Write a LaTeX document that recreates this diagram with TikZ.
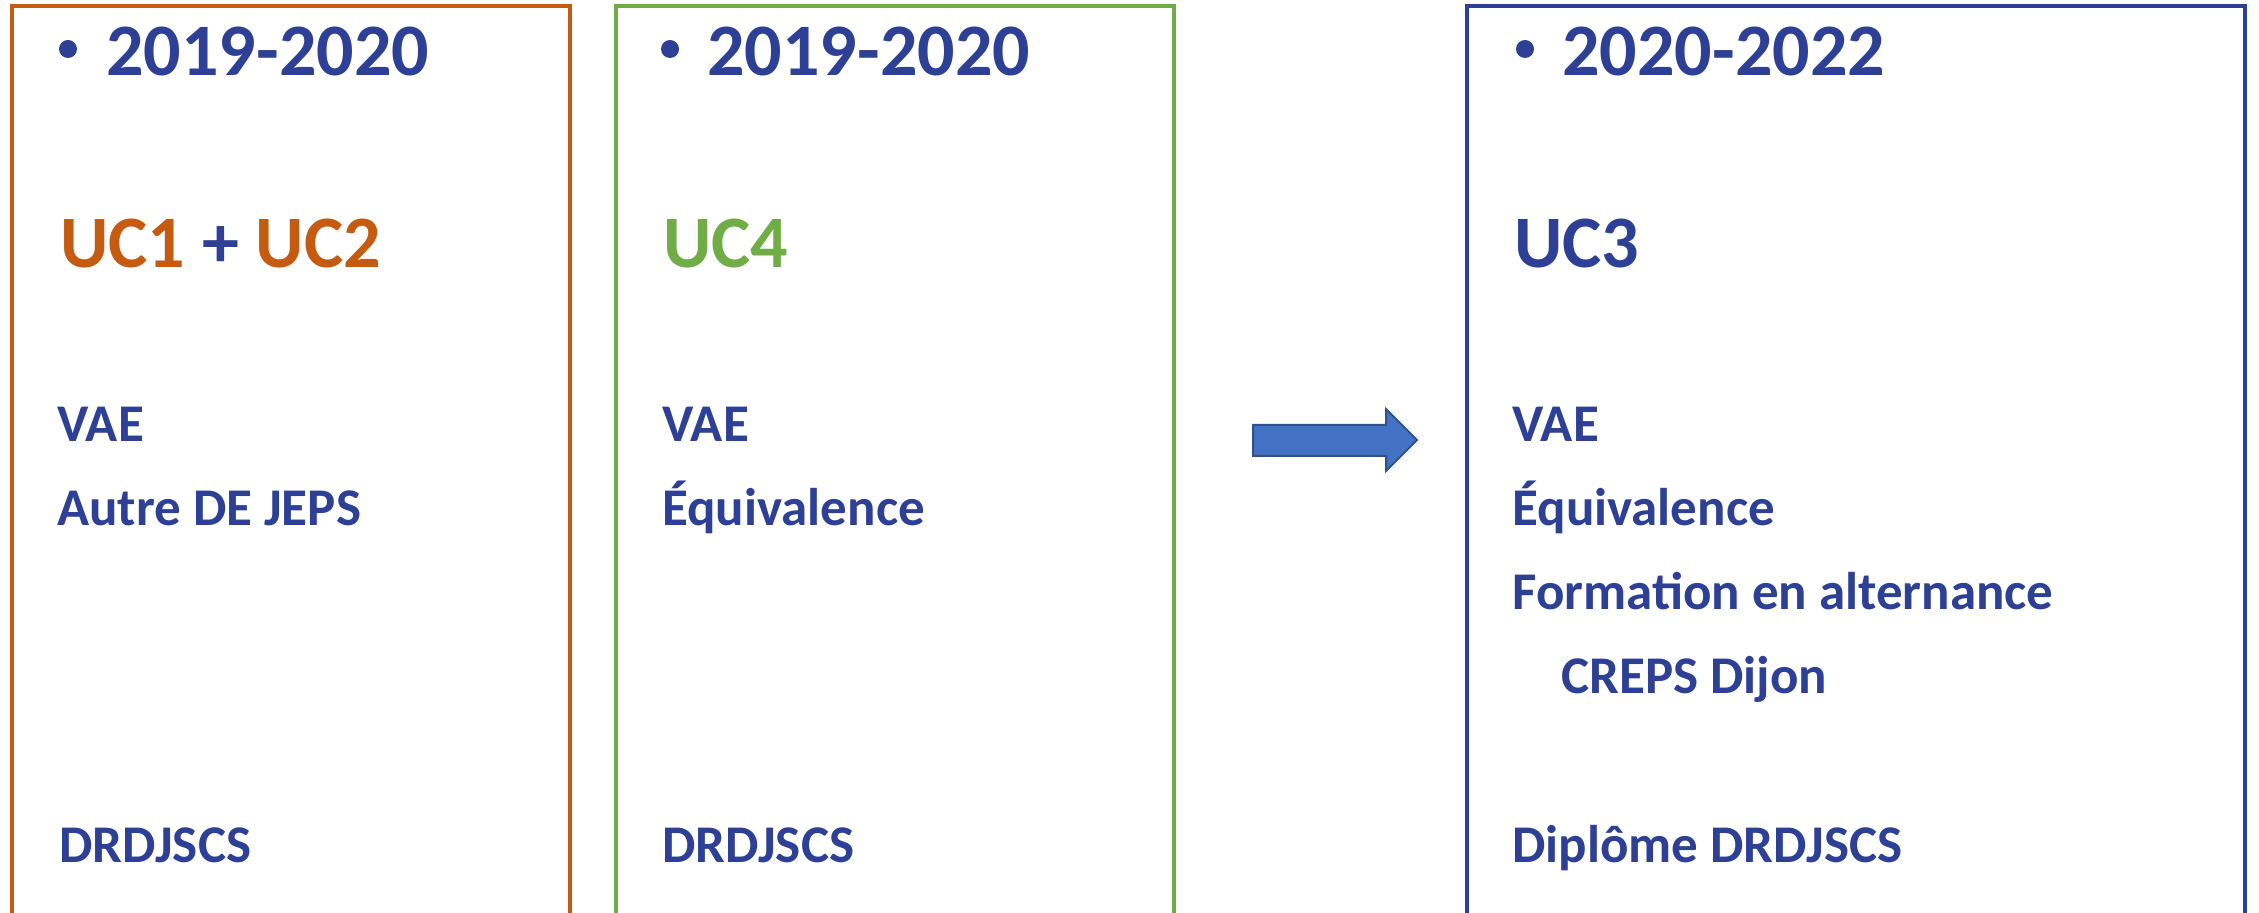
\documentclass[tikz,border=0pt]{standalone}
\usepackage{fontspec}
\setmainfont{Carlito}
\definecolor{ucblue}{HTML}{2E4095}
\definecolor{ucorange}{HTML}{C55A11}
\definecolor{ucgreen}{HTML}{70AD47}
\definecolor{arrowfill}{HTML}{4472C4}
\definecolor{arrowline}{HTML}{2F528F}
\begin{document}
\begin{tikzpicture}[x=0.5pt,y=-0.5pt,
    year/.style={anchor=base west,inner sep=0,text=ucblue,font=\fontsize{37}{44}\selectfont\bfseries},
    uc/.style={year},
    item/.style={anchor=base west,inner sep=0,text=ucblue,font=\fontsize{26.5}{32}\selectfont\bfseries}]
    \useasboundingbox (0,0) rectangle (2259,913);
    \clip (0,0) rectangle (2259,913);

    % Box 1 (open at the bottom)
    \draw[ucorange,line width=1.6pt] (12,960) -- (12,6) -- (570,6) -- (570,960);
    \fill[ucblue] (68,49) circle (9);
    \node[year] (year1) at (106,76) {2019-2020};
    \node[uc] (uc12) at (60,268) {\textcolor{ucorange}{UC1} + \textcolor{ucorange}{UC2}};
    \node[item] (vae1) at (57,442) {VAE};
    \node[item] (autre1) at (57,526) {Autre DE JEPS};
    \node[item] (drd1) at (59,862) {DRDJSCS};

    % Box 2
    \draw[ucgreen,line width=1.6pt] (616,960) -- (616,6) -- (1174,6) -- (1174,960);
    \fill[ucblue] (670,49) circle (9);
    \node[year] (year2) at (707,76) {2019-2020};
    \node[uc,text=ucgreen] (uc4) at (663,268) {UC4};
    \node[item] (vae2) at (662,442) {VAE};
    \node[item] (equiv2) at (662,526) {Équivalence};
    \node[item] (drd2) at (662,862) {DRDJSCS};

    % Arrow between the boxes
    \draw[arrowline,fill=arrowfill,line width=1pt,line join=miter]
        (1253,425) -- (1386,425) -- (1386,409) -- (1417,440)
        -- (1386,471) -- (1386,456) -- (1253,456) -- cycle;

    % Box 3
    \draw[ucblue,line width=2pt] (1467,960) -- (1467,6) -- (2245,6) -- (2245,960);
    \fill[ucblue] (1525,49) circle (9);
    \node[year] (year3) at (1562,76) {2020-2022};
    \node[uc] (uc3) at (1514,268) {UC3};
    \node[item] (vae3) at (1512,442) {VAE};
    \node[item] (equiv3) at (1512,526) {Équivalence};
    \node[item] (form3) at (1512,610) {Formation en alternance};
    \node[item] (creps3) at (1561,694) {CREPS Dijon};
    \node[item] (dipl3) at (1512,862) {Diplôme DRDJSCS};
\end{tikzpicture}
\end{document}
